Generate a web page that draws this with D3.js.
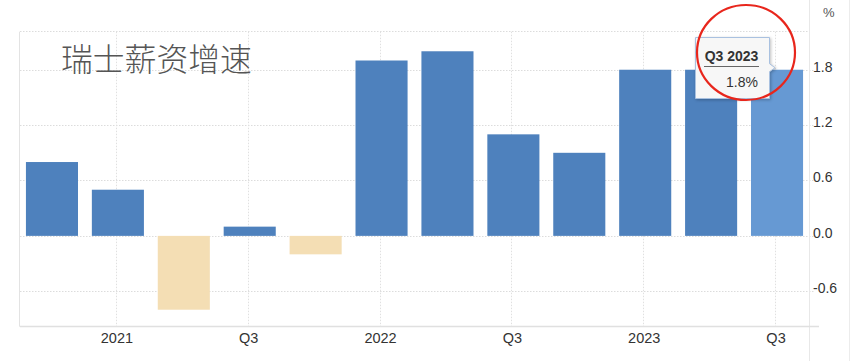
<!DOCTYPE html>
<html><head><meta charset="utf-8">
<script src="https://cdn.jsdelivr.net/npm/d3@7"></script>
<style>html,body{margin:0;padding:0;background:#fff;overflow:hidden}svg{display:block}</style>
</head><body>
<svg id="c" width="861" height="361"></svg>
<script>
const quarters = ["Q4 2020","Q1 2021","Q2 2021","Q3 2021","Q4 2021","Q1 2022","Q2 2022","Q3 2022","Q4 2022","Q1 2023","Q2 2023","Q3 2023"];
const values = [0.8, 0.5, -0.8, 0.1, -0.2, 1.9, 2.0, 1.1, 0.9, 1.8, 1.8, 1.8];
const xTickQuarters = ["Q1 2021","Q3 2021","Q1 2022","Q3 2022","Q1 2023","Q3 2023"];
const xTickLabels = ["2021","Q3","2022","Q3","2023","Q3"];
const yTicks = [-0.6, 0.0, 0.6, 1.2, 1.8];
const title = "瑞士薪资增速";
const unit = "%";
const highlight = "Q3 2023";

const svg = d3.select("#c");
const L = 20, R = 809, T = 31.7, B = 326.7;
const x = d3.scaleBand().domain(quarters).range([L, R]).paddingInner(0.21).paddingOuter(0.09);
const y = d3.scaleLinear().domain([-0.984, 2.212]).range([B, T]);
const font = "'Liberation Sans', Arial, sans-serif";

// right page edge line
svg.append("line").attr("x1",849.5).attr("x2",849.5).attr("y1",0).attr("y2",361).attr("stroke","#ececec");

// horizontal gridlines
svg.append("g").selectAll("line").data(yTicks).join("line")
  .attr("x1",L).attr("x2",814).attr("y1",d=>Math.round(y(d))+0.5).attr("y2",d=>Math.round(y(d))+0.5)
  .attr("stroke","#dcdcdc").attr("stroke-dasharray","1.5,1.5");
// top border dotted
svg.append("line").attr("x1",L).attr("x2",R).attr("y1",31.5).attr("y2",31.5).attr("stroke","#dcdcdc").attr("stroke-dasharray","1.5,1.5");
// vertical gridlines
svg.append("g").selectAll("line").data(xTickQuarters).join("line")
  .attr("x1",d=>Math.round(x(d)+x.bandwidth()/2)-1.5).attr("x2",d=>Math.round(x(d)+x.bandwidth()/2)-1.5)
  .attr("y1",T).attr("y2",B).attr("stroke","#e0e0e0").attr("stroke-dasharray","1.5,1.5");
// left and right borders
svg.append("line").attr("x1",19.5).attr("x2",19.5).attr("y1",T).attr("y2",B).attr("stroke","#e3e3e3");
svg.append("line").attr("x1",809.5).attr("x2",809.5).attr("y1",0).attr("y2",361).attr("stroke","#e8e8e8");

// bars
svg.append("g").selectAll("rect").data(values).join("rect")
  .attr("x",(d,i)=>x(quarters[i]))
  .attr("width",x.bandwidth())
  .attr("y",d=>y(Math.max(0,d)))
  .attr("height",d=>Math.abs(y(d)-y(0)))
  .attr("fill",(d,i)=> quarters[i]===highlight ? "#6699d3" : (d<0 ? "#f4deb4" : "#4e81bd"));

// bottom axis line
svg.append("line").attr("x1",L).attr("x2",819).attr("y1",326.5).attr("y2",326.5).attr("stroke","#e0e0e0").attr("stroke-width",1.5);

// x labels
svg.append("g").selectAll("text").data(xTickQuarters).join("text")
  .attr("x",(d)=>x(d)+x.bandwidth()/2-1).attr("y",343)
  .attr("text-anchor","middle").attr("font-family",font).attr("font-size",14.5)
  .attr("fill","#333")
  .text((d,i)=>xTickLabels[i]);

// y labels
svg.append("g").selectAll("text").data(yTicks).join("text")
  .attr("x",813).attr("y",d=>y(d)+2)
  .attr("font-family",font).attr("font-size",14).attr("fill","#333")
  .text(d=>d.toFixed(1));

// unit
svg.append("text").attr("x",823).attr("y",17).attr("font-family",font).attr("font-size",13).attr("fill","#555").text(unit);

// title
svg.append("text").attr("x",61).attr("y",71).attr("font-family","'Noto Sans CJK SC', sans-serif")
  .attr("font-size",31.8).attr("font-weight",300).attr("fill","#555").text(title);

// tooltip
const hi = quarters.indexOf(highlight);
const tipY = y(values[hi]);
const tg = svg.append("g");
tg.append("path")
  .attr("d",`M695.5,37.5 H769.5 V${tipY-6} L775,${tipY-2} L769.5,${tipY+2} V98.5 H695.5 Z`)
  .attr("fill","#f7f7f7").attr("stroke","#a9c1e0").attr("stroke-width",1)
  .style("filter","drop-shadow(1px 1px 1.5px rgba(0,0,0,0.25))");
tg.append("text").attr("x",731.5).attr("y",61).attr("text-anchor","middle")
  .attr("font-family",font).attr("font-size",14).attr("font-weight","bold").attr("fill","#333").text(highlight);
tg.append("line").attr("x1",704).attr("x2",759).attr("y1",66.5).attr("y2",66.5).attr("stroke","#666");
tg.append("text").attr("x",758).attr("y",87).attr("text-anchor","end")
  .attr("font-family",font).attr("font-size",14).attr("fill","#333").text(values[hi].toFixed(1)+unit);

// red circle
svg.append("ellipse").attr("cx",746).attr("cy",52.5).attr("rx",49).attr("ry",47.5)
  .attr("fill","none").attr("stroke","#e8261c").attr("stroke-width",2.2);
</script>
</body></html>
